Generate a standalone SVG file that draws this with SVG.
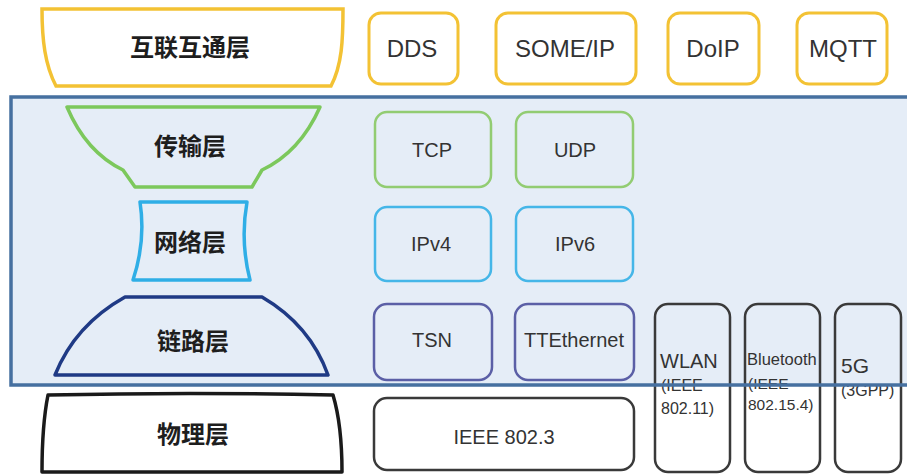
<svg xmlns="http://www.w3.org/2000/svg" width="907" height="475" viewBox="0 0 907 475">
  <style>
    .layer { font-family: "Noto Sans CJK SC", "Noto Sans", sans-serif; font-weight: 700; font-size: 24px; fill: #1e1e1e; text-anchor: middle; }
    .proto { font-family: "Liberation Sans", Arial, sans-serif; font-size: 20px; fill: #333333; text-anchor: middle; }
    .big { font-size: 24px; }
    .small { font-family: "Liberation Sans", Arial, sans-serif; fill: #333333; }
    .box { fill: none; stroke-width: 2.5; }
    .y { stroke: #F3C234; stroke-width: 3; }
    .g { stroke: #92CC72; }
    .b { stroke: #45B6E8; }
    .p { stroke: #5B5FA6; }
    .k { stroke: #3A3A3A; }
  </style>

  <rect width="907" height="475" fill="#ffffff"/>

  <!-- network-stack background band -->
  <rect id="stack-band" x="11" y="97" width="905" height="288" fill="#E5EDF7"/>

  <!-- left column: layer shapes -->
  <g id="interop-layer">
    <path d="M42,9 L343,9 C343,40 342,65 331,86 L56,86 C45,65 42,40 42,9 Z" fill="#ffffff" stroke="#F3C234" stroke-width="3.5"/>
    <text class="layer" x="190" y="56">互联互通层</text>
  </g>
  <g id="transport-layer">
    <path d="M67,107 L320,107 Q300,152 262,170 L252,187 L135,187 L123,170 Q86,152 67,107 Z" fill="none" stroke="#7CC85C" stroke-width="3.5" stroke-linejoin="round"/>
    <text class="layer" x="190" y="155">传输层</text>
  </g>
  <g id="network-layer">
    <path d="M140,202 L247,202 Q240,241 250,280 L133,280 Q146,241 140,202 Z" fill="none" stroke="#2FAEE6" stroke-width="3.5" stroke-linejoin="round"/>
    <text class="layer" x="190" y="251">网络层</text>
  </g>
  <g id="link-layer">
    <path d="M55,375 Q75,325 125,297 L262,297 Q310,325 328,375 Z" fill="none" stroke="#1F3A85" stroke-width="3.5" stroke-linejoin="round"/>
    <text class="layer" x="193" y="350">链路层</text>
  </g>
  <g id="physical-layer">
    <path d="M48,395 Q190,392 333,395 Q342,425 342,472 L42,472 Q42,425 48,395 Z" fill="#ffffff" stroke="#1a1a1a" stroke-width="3.5" stroke-linejoin="round"/>
    <text class="layer" x="193" y="443">物理层</text>
  </g>

  <!-- interop protocols -->
  <g id="dds">
    <rect class="box y" x="369" y="13" width="89" height="71" rx="12"/>
    <text class="proto big" x="412" y="57">DDS</text>
  </g>
  <g id="someip">
    <rect class="box y" x="496" y="13" width="140" height="71" rx="12"/>
    <text class="proto big" x="565" y="57">SOME/IP</text>
  </g>
  <g id="doip">
    <rect class="box y" x="668" y="13" width="91" height="71" rx="12"/>
    <text class="proto big" x="713" y="57">DoIP</text>
  </g>
  <g id="mqtt">
    <rect class="box y" x="797" y="13" width="90" height="71" rx="12"/>
    <text class="proto big" x="843" y="57">MQTT</text>
  </g>

  <!-- transport protocols -->
  <g id="tcp">
    <rect class="box g" x="375" y="112" width="116" height="75" rx="12"/>
    <text class="proto" x="432" y="157">TCP</text>
  </g>
  <g id="udp">
    <rect class="box g" x="516" y="112" width="117" height="75" rx="12"/>
    <text class="proto" x="575" y="157">UDP</text>
  </g>

  <!-- network protocols -->
  <g id="ipv4">
    <rect class="box b" x="375" y="207" width="116" height="74" rx="12"/>
    <text class="proto" x="431" y="251">IPv4</text>
  </g>
  <g id="ipv6">
    <rect class="box b" x="516" y="207" width="117" height="74" rx="12"/>
    <text class="proto" x="575" y="251">IPv6</text>
  </g>

  <!-- link protocols -->
  <g id="tsn">
    <rect class="box p" x="374" y="304" width="118" height="76" rx="13"/>
    <text class="proto" x="432" y="347">TSN</text>
  </g>
  <g id="ttethernet">
    <rect class="box p" x="515" y="304" width="119" height="76" rx="13"/>
    <text class="proto" x="574" y="347">TTEthernet</text>
  </g>

  <!-- physical media -->
  <g id="ieee8023">
    <rect class="box k" x="374" y="398" width="260" height="72" rx="13"/>
    <text class="proto" x="504" y="444">IEEE 802.3</text>
  </g>
  <g id="wlan">
    <rect class="box k" x="655" y="304" width="75" height="168" rx="13"/>
    <text class="small" x="660" y="368" font-size="20">WLAN</text>
    <text class="small" x="661" y="391" font-size="16">(IEEE</text>
    <text class="small" x="661" y="414" font-size="16">802.11)</text>
  </g>
  <g id="bluetooth">
    <rect class="box k" x="745" y="304" width="75" height="168" rx="13"/>
    <text class="small" x="747" y="365" font-size="16.5">Bluetooth</text>
    <text class="small" x="748" y="389" font-size="15.5">(IEEE</text>
    <text class="small" x="748" y="410" font-size="15.5">802.15.4)</text>
  </g>
  <g id="fiveg">
    <rect class="box k" x="835" y="304" width="66" height="168" rx="13"/>
    <text class="small" x="841" y="373" font-size="21">5G</text>
    <text class="small" x="841" y="396" font-size="16">(3GPP)</text>
  </g>

  <!-- band outline drawn over the boxes -->
  <g id="connectors">
    <rect x="11" y="97" width="905" height="288" fill="none" stroke="#4670A0" stroke-width="3.5"/>
  </g>
</svg>
